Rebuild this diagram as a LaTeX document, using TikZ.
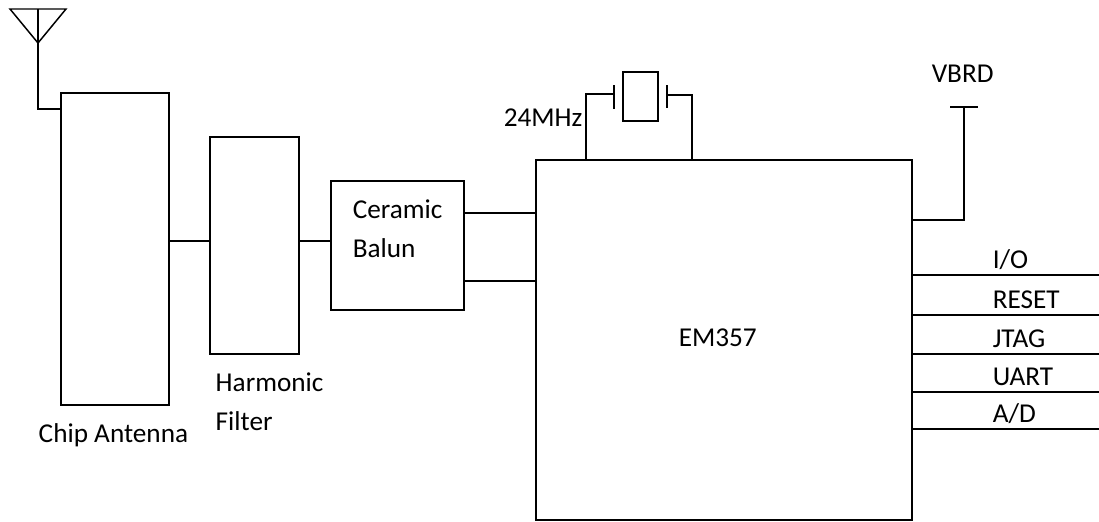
\documentclass[tikz,border=0pt]{standalone}
\usepackage{fontspec}
\setmainfont{Carlito}
\usepackage{tikz}
\usetikzlibrary{positioning}
\begin{document}
\begin{tikzpicture}[x=0.02cm,y=-0.02cm,line width=0.85pt,font=\fontsize{15.5}{18}\selectfont]
        \tikzset{block/.style={rectangle,draw=black,inner sep=0pt,outer sep=0pt},
            label/.style={inner sep=0pt,anchor=base west}}
        \useasboundingbox (0,0) rectangle (1099,521);

            \node[block, minimum width=2.16cm, minimum height=6.24cm] (chip) at (115,249) {};
            \node[block, minimum width=1.78cm, minimum height=4.34cm] (harm) at (254.5,245.5) {};
            \node[block, minimum width=2.66cm, minimum height=2.58cm] (balun) at (397.5,245.5) {};
            \node[block, minimum width=7.52cm, minimum height=7.20cm] (em) at (724,340) {};
            \node[block, minimum width=0.70cm, minimum height=0.98cm] (xtal) at (640.5,96.5) {};
            \node[label] (emlab) at (678,346) {EM357};

            % antenna
            \coordinate (a1) at (10,9);
            \coordinate (a2) at (66,9);
            \coordinate (a3) at (38,43);
            \coordinate (a4) at (38,9);
            \coordinate (a5) at (0,109);
            \draw (a1) -- (a2) -- (a3) -- cycle;
            \draw (a4) -- (a3) |- (chip.west |- a5);

            % signal path
            \coordinate (w1) at (0,241);
            \coordinate (w2) at (0,213);
            \coordinate (w3) at (0,281);
            \draw (chip.east |- w1) -- (harm.west |- w1);
            \draw (harm.east |- w1) -- (balun.west |- w1);
            \draw (balun.east |- w2) -- (em.west |- w2);
            \draw (balun.east |- w3) -- (em.west |- w3);

            % crystal
            \coordinate (p1) at (614,85);
            \coordinate (p2) at (614,109);
            \coordinate (p3) at (667,85);
            \coordinate (p4) at (667,108);
            \coordinate (p5) at (614,94);
            \coordinate (p6) at (667,95);
            \coordinate (c1) at (586,0);
            \coordinate (c2) at (692,0);
            \draw (p1) -- (p2);
            \draw (p3) -- (p4);
            \draw (p5) -| (c1 |- em.north);
            \draw (p6) -| (c2 |- em.north);
            \node[label] (freq) at (503,126) {24MHz};

            % supply
            \coordinate (v1) at (950,107);
            \coordinate (v2) at (978,107);
            \coordinate (v3) at (964,107);
            \coordinate (v4) at (0,220);
            \draw (v1) -- (v2);
            \draw (v3) |- (em.east |- v4);
            \node[label] (vbrd) at (931,82) {VBRD};

            \foreach \t/\y in {io/275, rst/315, jtag/354, uart/392, ad/429}
            {
                \coordinate (pin\t) at (1099,\y);
                \draw (em.east |- pin\t) -- (pin\t);
            }
            \node[label] (labio) at (992,268) {I/O};
            \node[label] (labrst) at (992,308) {RESET};
            \node[label] (labjtag) at (992,347) {JTAG};
            \node[label] (labuart) at (992,385) {UART};
            \node[label] (labad) at (992,422) {A/D};

            \node[label] (ln1) at (352,218) {Ceramic};
            \node[label] (ln2) at (352,257) {Balun};
            \node[label] (ln3) at (215,391) {Harmonic};
            \node[label] (ln4) at (215,430) {Filter};
            \node[label] (ln5) at (38,442) {Chip Antenna};
    \end{tikzpicture}
\end{document}
